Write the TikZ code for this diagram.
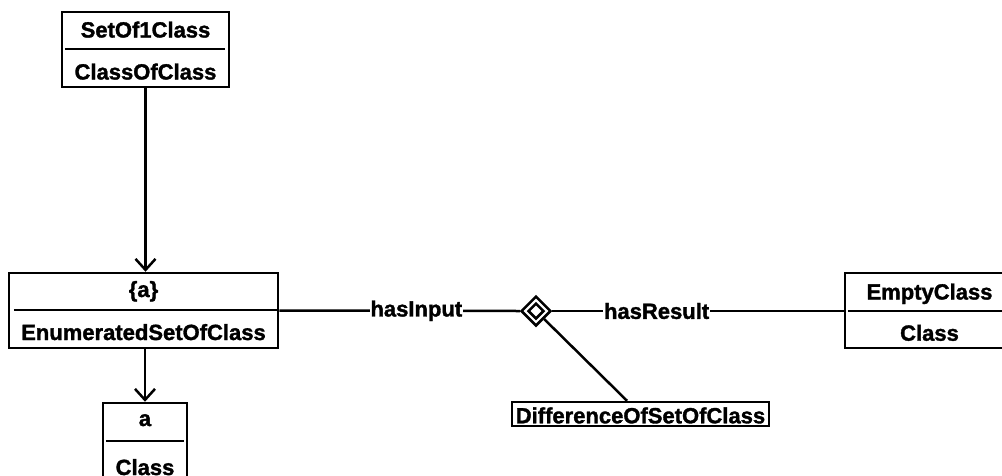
\documentclass[tikz,border=0pt]{standalone}
\usepackage{fontspec}
\setmainfont{Liberation Sans}[BoldFeatures={FakeBold=1.5}]
\usetikzlibrary{arrows.meta,shapes.geometric}
\begin{document}
\begin{tikzpicture}[x=1pt,y=-1pt,
  line width=2.5pt,
  box/.style={draw, rectangle, inner sep=0pt, line width=2.5pt},
  lbl/.style={font=\fontsize{22}{24}\selectfont\bfseries, inner sep=0pt, anchor=base},
  conn/.style={line width=2.5pt},
  arr/.style={line width=2.5pt, -{Straight Barb[length=11pt,width=20pt,line width=2.5pt]}},
  edgelbl/.style={font=\fontsize{22}{24}\selectfont\bfseries, fill=white, inner xsep=1pt, inner ysep=2pt}
]
\useasboundingbox (0,0) rectangle (1002,475);

% SetOf1Class box
\node[box, minimum width=167pt, minimum height=75pt] (set) at (145.5,49.5) {};
\node[lbl] (setn) at (145.5,37.5) {SetOf1Class};
\node[lbl] (sett) at (145.5,79.5) {ClassOfClass};
\draw ([xshift=4pt]set.west |- 0,49) -- ([xshift=-5pt]set.east |- 0,49);

% {a} box
\node[box, minimum width=269pt, minimum height=75pt] (ea) at (143.5,310.5) {};
\node[lbl] (ean) at (143.5,297) {\{a\}};
\node[lbl] (eat) at (143.5,340) {EnumeratedSetOfClass};
\draw ([xshift=6pt]ea.west |- 0,310) -- ([xshift=-2pt]ea.east |- 0,310);

% a box
\node[box, minimum width=84pt, minimum height=77pt] (a) at (145,441.5) {};
\node[lbl] (an) at (145,426) {a};
\node[lbl] (at) at (145,475) {Class};
\draw ([xshift=4pt]a.west |- 0,441) -- ([xshift=-4pt]a.east |- 0,441);

% EmptyClass box
\node[box, minimum width=170pt, minimum height=75pt] (empty) at (930,310.5) {};
\node[lbl] (emptyn) at (929.5,299.5) {EmptyClass};
\node[lbl] (emptyt) at (929.5,340.7) {Class};
\draw ([xshift=4pt]empty.west |- 0,311) -- ([xshift=-4pt]empty.east |- 0,311);

% DifferenceOfSetOfClass
\node[box, minimum width=257pt, minimum height=24pt] (diff) at (640.5,414) {};
\node[lbl] (difft) at (640.5,423.3) {DifferenceOfSetOfClass};

% diamond
\node[draw, diamond, shape aspect=1, minimum width=30pt, minimum height=30pt, inner sep=0pt, line width=2.5pt] (dia) at (536,311) {};
\node[draw, diamond, shape aspect=1, minimum width=16pt, minimum height=16pt, inner sep=0pt, line width=2.5pt] (diain) at (536,311) {};

% connectors
\draw[arr] (set.south) -- (set.south |- ea.north);
\draw[arr] (ea.south -| a.north) -- (a.north);
\draw[conn] (ea.east) -- node[edgelbl, pos=0.57] (hi) {hasInput} (dia.west);
\draw[conn] (dia.east) -- node[edgelbl, pos=0.358] (hr) {hasResult} (empty.west |- dia.east);
\draw[conn] (dia) -- ([xshift=-13.5pt]diff.north);
\end{tikzpicture}
\end{document}
